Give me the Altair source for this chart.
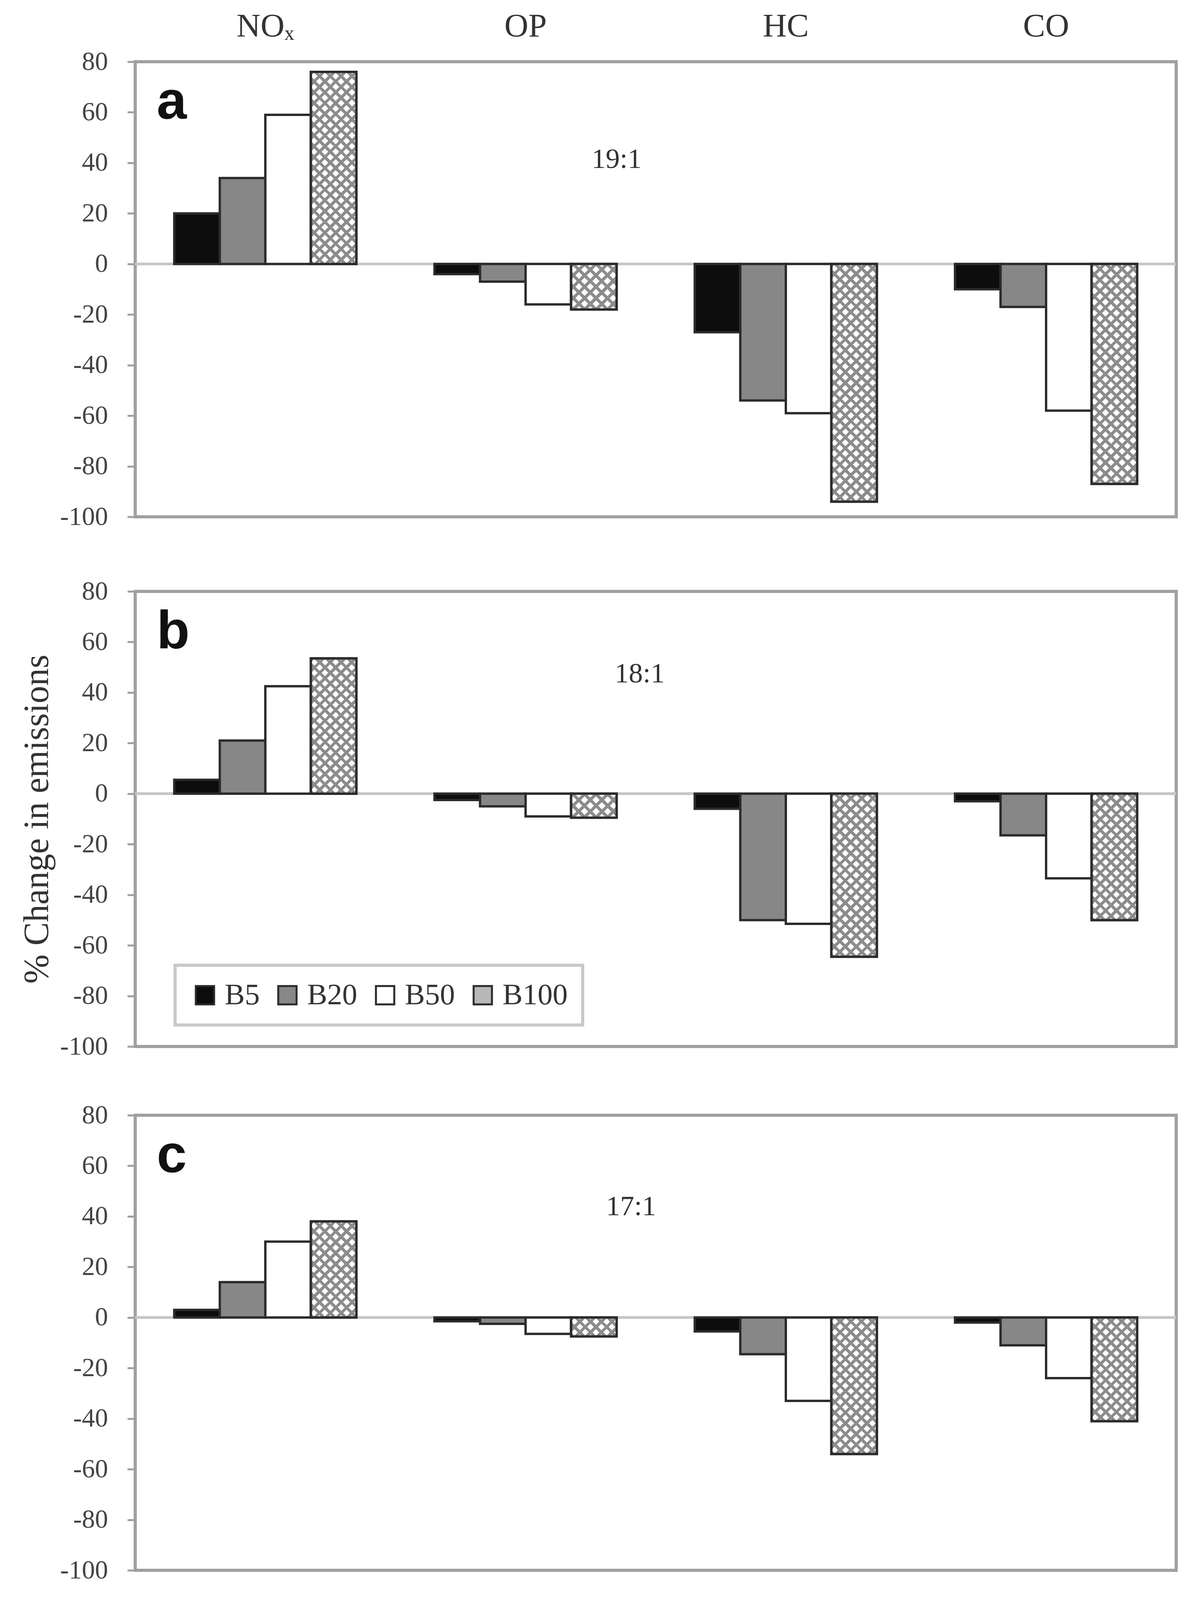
import altair as alt
import pandas as pd

# ---------------- data ----------------
POLLUTANTS = ["NOₓ", "OP", "HC", "CO"]
BLENDS = ["B5", "B20", "B50", "B100"]
PANELS = ["a", "b", "c"]
RATIOS = ["19:1", "18:1", "17:1"]

# panel a (19:1)
A_NOX = [20, 34, 59, 76]
A_OP = [-4, -7, -16, -18]
A_HC = [-27, -54, -59, -94]
A_CO = [-10, -17, -58, -87]
# panel b (18:1)
B_NOX = [5.5, 21, 42.5, 53.5]
B_OP = [-2.5, -5, -9, -9.5]
B_HC = [-6, -50, -51.5, -64.5]
B_CO = [-3, -16.5, -33.5, -50]
# panel c (17:1)
C_NOX = [3, 14, 30, 38]
C_OP = [-1.5, -2.5, -6.5, -7.5]
C_HC = [-5.5, -14.5, -33, -54]
C_CO = [-2, -11, -24, -41]

SERIES = [
    [A_NOX, A_OP, A_HC, A_CO],
    [B_NOX, B_OP, B_HC, B_CO],
    [C_NOX, C_OP, C_HC, C_CO],
]
Y_TICKS = list(range(-100, 81, 20))

# ---------------- layout / style ----------------
W, H = 2664, 1165
PAD_IN, PAD_OUT = 0.3, 0.15
STEP = W / (len(POLLUTANTS) - PAD_IN + 2 * PAD_OUT)
BAR_W = STEP * (1 - PAD_IN) / len(BLENDS)
PXU = H / 180.0
FILLS = ["#0d0d0d", "#878787", "#ffffff", "#b8b8b8"]
BAR_STROKE = "#2b2b2b"
HATCH_COLOR = "#8c8c8c"
HATCH_PERIOD = 28.0
HATCH_FRAC = 0.38
SERIF = "Liberation Serif"

# annotation positions (pixels from plot left / data units)
LETTER_X = 55
LETTER_Y = 57.5
RATIO_X = [1232, 1291, 1269]
RATIO_Y = [38, 44, 40.5]


def hatch(value, direction):
    """Diagonal stripe gradient sized to the bar so the lines run at 45 degrees."""
    h = max(abs(value) * PXU, 1.0)
    w = BAR_W
    n = max(1, round((w + h) / HATCH_PERIOD))
    lam = (w + h) / (w * w + h * h)
    if direction == 1:
        x1, y1, x2, y2 = 0, 0, lam * w, lam * h
        bg = "#ffffff"
    else:
        x1, y1, x2, y2 = 0, 1, lam * w, 1 - lam * h
        bg = "rgba(255,255,255,0)"
    stops = []
    for i in range(n):
        a = i / n
        b = (i + HATCH_FRAC) / n
        c = (i + 1) / n
        stops += [
            {"offset": a, "color": HATCH_COLOR},
            {"offset": b, "color": HATCH_COLOR},
            {"offset": b, "color": bg},
            {"offset": c, "color": bg},
        ]
    return {"gradient": "linear", "x1": x1, "y1": y1, "x2": x2, "y2": y2, "stops": stops}


def panel(idx):
    rows = []
    for p, vals in zip(POLLUTANTS, SERIES[idx]):
        for b, v in zip(BLENDS, vals):
            rows.append({"Pollutant": p, "Blend": b, "Value": v})
    df = pd.DataFrame(rows)
    hatch_rows = [
        dict(r, g1=hatch(r["Value"], 1), g2=hatch(r["Value"], 2))
        for r in rows if r["Blend"] == "B100"
    ]

    xscale = alt.Scale(domain=POLLUTANTS, paddingInner=PAD_IN, paddingOuter=PAD_OUT)
    if idx == 0:
        xaxis = alt.Axis(orient="top", labelFont=SERIF, labelFontSize=85,
                         labelColor="#333333", ticks=False, tickSize=0, domain=False,
                         labelPadding=47, labelAngle=0, title=None)
    else:
        xaxis = alt.Axis(orient="top", labels=False, ticks=False, tickSize=0,
                         domain=False, title=None)
    x = alt.X("Pollutant:N", sort=POLLUTANTS, scale=xscale, axis=xaxis, title=None)
    xo = alt.XOffset("Blend:N", sort=BLENDS,
                     scale=alt.Scale(domain=BLENDS, paddingInner=0, paddingOuter=0))
    yscale = alt.Scale(domain=[-100, 80], nice=False, zero=False)
    ytitle = "% Change in emissions" if idx == 1 else None
    yaxis = alt.Axis(
        values=Y_TICKS,
        labelExpr="datum.value < 0 ? '-' + abs(datum.value) : '' + datum.value",
        labelFont=SERIF, labelFontSize=67, labelColor="#444444",
        tickColor="#a0a0a0", tickSize=20, tickWidth=5, labelPadding=50,
        domain=False, grid=False, labelFlush=False, labelOverlap=False,
        title=ytitle,
        titleFont=SERIF, titleFontSize=90, titleFontWeight="normal",
        titleColor="#333333", titlePadding=12,
    )
    y = alt.Y("Value:Q", stack=None, scale=yscale, axis=yaxis, title=ytitle)

    if idx == 1:
        legend = alt.Legend(
            orient="none", legendX=102, legendY=957, direction="horizontal",
            columns=4, title=None, symbolType="square", symbolSize=2200,
            symbolStrokeColor=BAR_STROKE, symbolStrokeWidth=5,
            labelFont=SERIF, labelFontSize=77, labelColor="#333333",
            labelOffset=12, labelLimit=400, columnPadding=32, padding=38,
            strokeColor="#c8c8c8", fillColor="#ffffff",
        )
    else:
        legend = None

    one = pd.DataFrame({"t": [PANELS[idx]], "r": [RATIOS[idx]]})

    zero = alt.Chart(one).mark_rule(color="#c6c6c6", strokeWidth=7).encode(
        y=alt.YDatum(0, scale=yscale, axis=yaxis, title=ytitle)
    )
    bars = alt.Chart(df).mark_bar(stroke=BAR_STROKE, strokeWidth=6).encode(
        x=x, xOffset=xo, y=y,
        fill=alt.Fill("Blend:N", sort=BLENDS,
                      scale=alt.Scale(domain=BLENDS, range=FILLS), legend=legend),
    )
    hdata = alt.Data(values=hatch_rows)
    h1 = alt.Chart(hdata).mark_bar(strokeWidth=0).encode(
        x=x, xOffset=xo, y=y,
        fill=alt.Fill("g1:N", scale=None, legend=None),
    )
    h2 = alt.Chart(hdata).mark_bar(stroke=BAR_STROKE, strokeWidth=6).encode(
        x=x, xOffset=xo, y=y,
        fill=alt.Fill("g2:N", scale=None, legend=None),
    )
    letter = alt.Chart(one).mark_text(
        font="Liberation Sans", fontWeight="bold", fontSize=138,
        align="left", baseline="alphabetic", color="#111111",
    ).encode(x=alt.value(LETTER_X),
             y=alt.YDatum(LETTER_Y, scale=yscale, axis=yaxis, title=ytitle),
             text="t:N")
    ratio = alt.Chart(one).mark_text(
        font=SERIF, fontSize=72, align="center", baseline="alphabetic", color="#333333",
    ).encode(x=alt.value(RATIO_X[idx]),
             y=alt.YDatum(RATIO_Y[idx], scale=yscale, axis=yaxis, title=ytitle),
             text="r:N")

    return alt.layer(zero, bars, h1, h2, letter, ratio).properties(width=W, height=H)


top_two = (
    alt.vconcat(panel(0), panel(1), spacing=116)
    .resolve_scale(fill="independent")
    .resolve_legend(fill="independent")
)

chart = (
    alt.vconcat(top_two, panel(2), spacing=101)
    .resolve_scale(fill="independent")
    .resolve_legend(fill="independent")
    .properties(padding={"left": 38, "top": 13, "right": 20, "bottom": 0},
                background="#ffffff")
    .configure_view(stroke="#a0a0a0", strokeWidth=8)
    .configure_legend(strokeWidth=8)
)

chart.save("out.html", embed_options={"renderer": "svg", "actions": False})
